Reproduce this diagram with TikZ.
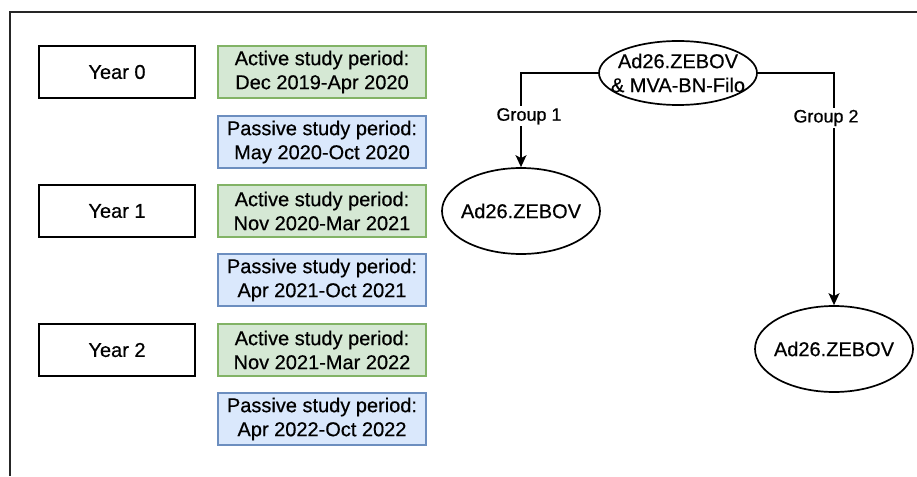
\documentclass[tikz,border=0pt]{standalone}
\usepackage{fontspec}
\setmainfont{Liberation Sans}[BoldFont=Liberation Sans, BoldFeatures={FakeBold=0.5}]
\usetikzlibrary{shapes.geometric,arrows.meta}
\definecolor{actfill}{HTML}{D5E8D4}
\definecolor{actline}{HTML}{82B366}
\definecolor{pasfill}{HTML}{DAE8FC}
\definecolor{pasline}{HTML}{6C8EBF}
\tikzset{
  txt/.style={font=\fontsize{20}{24}\selectfont\bfseries},
  yearbox/.style={draw=black, line width=2.2pt, minimum width=156pt, minimum height=52pt, inner sep=0pt, txt},
  actbox/.style={draw=actline, fill=actfill, line width=2.2pt, minimum width=208pt, minimum height=52pt, inner sep=0pt, align=center, txt},
  pasbox/.style={draw=pasline, fill=pasfill, line width=2.2pt, minimum width=208pt, minimum height=52pt, inner sep=0pt, align=center, txt},
  vacc/.style={ellipse, draw=black, line width=1.7pt, minimum width=158pt, minimum height=86pt, inner sep=0pt},
  vtext/.style={align=center, txt, inner sep=0pt},
  conn/.style={draw=black, line width=1.6pt, -{Stealth[length=12pt,width=11pt,inset=3pt]}},
  grp/.style={fill=white, inner sep=2pt, font=\fontsize{18}{22}\selectfont\bfseries}
}
\begin{document}
\begin{tikzpicture}[x=1pt, y=-1pt]
\useasboundingbox (0,0) rectangle (917,476);
\fill[white] (0,0) rectangle (917,476);
\coordinate (ftl) at (10,12);
\coordinate (ftr) at (917,12);
\coordinate (fbl) at (10,476);
\draw[line width=2.2pt, black!85] (ftr) -- (ftl) -- (fbl);

\node[yearbox] (y0) at (117,72) {Year 0};
\node[yearbox] (y1) at (117,211) {Year 1};
\node[yearbox] (y2) at (117,350) {Year 2};

\node[actbox] (a0) at (322,72) {Active study period:\\Dec 2019-Apr 2020};
\node[pasbox] (p0) at (322,142) {Passive study period:\\May 2020-Oct 2020};
\node[actbox] (a1) at (322,211) {Active study period:\\Nov 2020-Mar 2021};
\node[pasbox] (p1) at (322,280) {Passive study period:\\Apr 2021-Oct 2021};
\node[actbox] (a2) at (322,350) {Active study period:\\Nov 2021-Mar 2022};
\node[pasbox] (p2) at (322,419) {Passive study period:\\Apr 2022-Oct 2022};

\node[vacc, minimum height=64pt] (top) at (678,73) {};
\node[vtext] (topt) at (top.center) {Ad26.ZEBOV\\\& MVA-BN-Filo};
\node[vacc] (e1) at (521,211) {};
\node[vtext] (e1t) at (e1.center) {Ad26.ZEBOV};
\node[vacc] (e2) at (834,349) {};
\node[vtext] (e2t) at (e2.center) {Ad26.ZEBOV};

\draw[conn] (top.west) -| node[grp, pos=0.73, xshift=8pt] {Group 1} (e1.north);
\draw[conn] (top.east) -| node[grp, pos=0.597, xshift=-8pt] {Group 2} (e2.north);
\end{tikzpicture}
\end{document}
